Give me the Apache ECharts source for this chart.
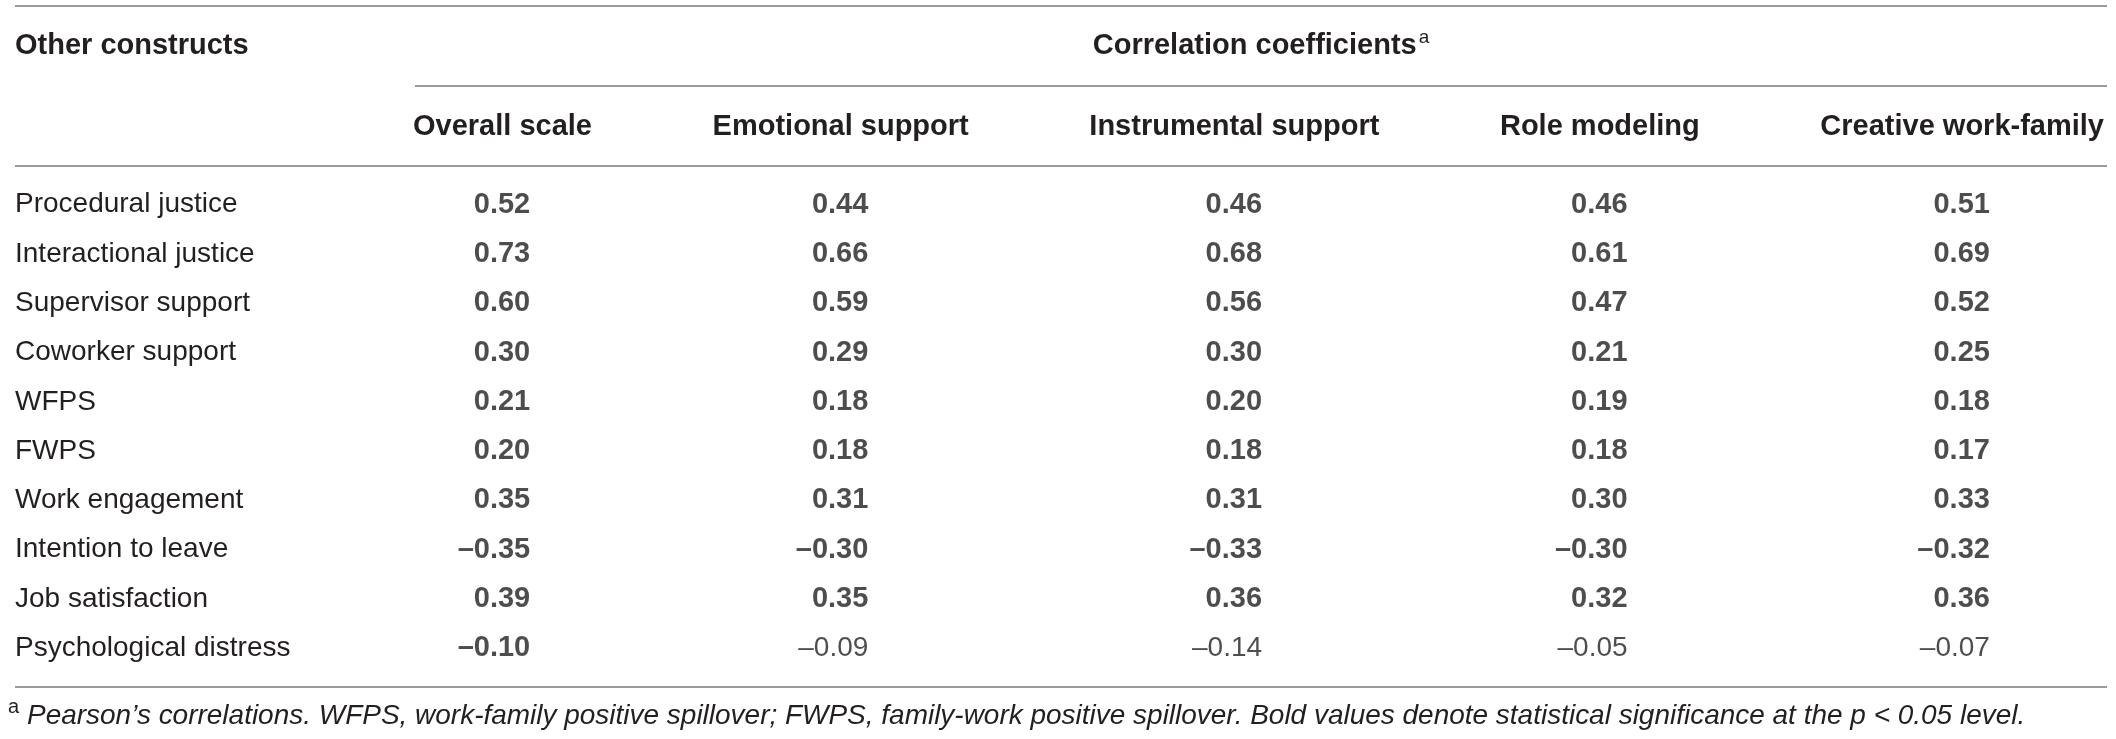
<!DOCTYPE html>
<html>
<head>
<meta charset="utf-8">
<script src="https://cdn.jsdelivr.net/npm/echarts@6/dist/echarts.min.js"></script>
<style>
    html, body { margin: 0; padding: 0; background: #fff; }
    #corrTable { width: 2116px; height: 739px; }
</style>
</head>
<body>
<div id="corrTable"></div>
<script>
// table content
var constructs = [
    'Procedural justice', 'Interactional justice', 'Supervisor support', 'Coworker support',
    'WFPS', 'FWPS', 'Work engagement', 'Intention to leave', 'Job satisfaction', 'Psychological distress'
];
var columnNames = ['Overall scale', 'Emotional support', 'Instrumental support', 'Role modeling', 'Creative work-family'];

var overallScale = [0.52, 0.73, 0.60, 0.30, 0.21, 0.20, 0.35, -0.35, 0.39, -0.10];
var emotionalSupport = [0.44, 0.66, 0.59, 0.29, 0.18, 0.18, 0.31, -0.30, 0.35, -0.09];
var instrumentalSupport = [0.46, 0.68, 0.56, 0.30, 0.20, 0.18, 0.31, -0.33, 0.36, -0.14];
var roleModeling = [0.46, 0.61, 0.47, 0.21, 0.19, 0.18, 0.30, -0.30, 0.32, -0.05];
var creativeWorkFamily = [0.51, 0.69, 0.52, 0.25, 0.18, 0.17, 0.33, -0.32, 0.36, -0.07];

// p < 0.05 -> printed in bold
var overallSig = [true, true, true, true, true, true, true, true, true, true];
var emotionalSig = [true, true, true, true, true, true, true, true, true, false];
var instrumentalSig = [true, true, true, true, true, true, true, true, true, false];
var roleSig = [true, true, true, true, true, true, true, true, true, false];
var creativeSig = [true, true, true, true, true, true, true, true, true, false];

var groupTitle = 'Correlation coefficients';
var firstColTitle = 'Other constructs';
var footnote = 'Pearson\u2019s correlations. WFPS, work-family positive spillover; FWPS, family-work positive spillover. Bold values denote statistical significance at the p < 0.05 level.';

var columnValues = [overallScale, emotionalSupport, instrumentalSupport, roleModeling, creativeWorkFamily];
var columnSig = [overallSig, emotionalSig, instrumentalSig, roleSig, creativeSig];

// look
var FONT = '"Liberation Sans", Arial, Helvetica, sans-serif';
var INK = '#231f20';
var RULE = '#9a9a9a';
var W = 2116;

// measure text the same way the canvas will draw it
var measureCtx = document.createElement('canvas').getContext('2d');
function textWidth(text, size, weight, style) {
    measureCtx.font = (style || 'normal') + ' ' + (weight || 'normal') + ' ' + size + 'px ' + FONT;
    return measureCtx.measureText(text).width;
}

// column layout like an auto table: header widths plus an equal gap
var headLeft = 413, headRight = 2104;
var headWidths = columnNames.map(function (n) { return textWidth(n, 29, 'bold'); });
var sumW = headWidths.reduce(function (a, b) { return a + b; }, 0);
var gap = (headRight - headLeft - sumW) / (columnNames.length - 1);
var colCenters = [];
var cursor = headLeft;
headWidths.forEach(function (w) {
    colCenters.push(cursor + w / 2);
    cursor += w + gap;
});
// numbers are right aligned so the digits line up under the header centre
var halfNum = textWidth('0.00', 29, 'bold') / 2;

function fmt(v) {
    var s = Math.abs(v).toFixed(2);
    return v < 0 ? '\u2013' + s : s;
}

var series = columnValues.map(function (vals, j) {
    return {
        name: columnNames[j],
        type: 'scatter',
        symbolSize: 1,
        itemStyle: { color: 'rgba(0,0,0,0)' },
        silent: true,
        label: {
            show: true,
            position: 'left',
            distance: 0,
            color: INK,
            fontFamily: FONT,
            fontSize: 29,
            formatter: function (p) { return fmt(p.data.v); }
        },
        data: vals.map(function (v, i) {
            var bold = columnSig[j][i];
            return {
                value: [colCenters[j] + halfNum, constructs[i]],
                v: v,
                label: { fontWeight: bold ? 'bold' : 'normal', fontSize: bold ? 29 : 28 }
            };
        })
    };
});

// rules, headers and footnote
function rule(y, x1) {
    return { type: 'line', silent: true, shape: { x1: x1, y1: y, x2: 2107, y2: y }, style: { stroke: RULE, lineWidth: 2 } };
}
function label(text, x, y, size, weight, align, fontStyle) {
    return {
        type: 'text', silent: true, x: x, y: y,
        style: {
            text: text, fill: INK,
            font: (fontStyle || 'normal') + ' ' + (weight || 'normal') + ' ' + size + 'px ' + FONT,
            align: align || 'left', verticalAlign: 'middle',
            textAlign: align || 'left', textVerticalAlign: 'middle'
        }
    };
}

// group title (with its note mark) centred over the spanned columns
var groupW = textWidth(groupTitle, 29, 'bold');
var supW = textWidth('a', 19, 'normal');
var groupLeft = (415 + 2107) / 2 - (groupW + 2 + supW) / 2;
var footSize = 26 * 1999 / textWidth(footnote, 26, 'normal', 'italic');

var graphics = [
    rule(6, 15), rule(86, 415), rule(166, 15), rule(687, 15),
    label(firstColTitle, 15, 46, 29, 'bold'),
    label(groupTitle, groupLeft, 46, 29, 'bold'),
    label('a', groupLeft + groupW + 2, 38, 19, 'normal'),
    label('a', 8, 707, 20, 'normal'),
    label(footnote, 27, 716, footSize, 'normal', 'left', 'italic')
];
columnNames.forEach(function (n, j) {
    graphics.push(label(n, colCenters[j], 127, 29, 'bold', 'center'));
});

var chart = echarts.init(document.getElementById('corrTable'));
var option = {
    animation: false,
    backgroundColor: '#fff',
    textStyle: { fontFamily: FONT },
    grid: { left: 0, right: 0, top: 180, height: 493 },
    xAxis: { type: 'value', min: 0, max: W, show: false },
    yAxis: {
        type: 'category',
        data: constructs,
        inverse: true,
        axisLine: { show: false },
        axisTick: { show: false },
        splitLine: { show: false },
        axisLabel: {
            interval: 0,
            align: 'left',
            margin: -15,
            color: INK,
            fontFamily: FONT,
            fontSize: 28
        }
    },
    graphic: graphics,
    series: series
};
chart.setOption(option);

window.addEventListener('resize', function () {
    chart.resize();
});
</script>
</body>
</html>
